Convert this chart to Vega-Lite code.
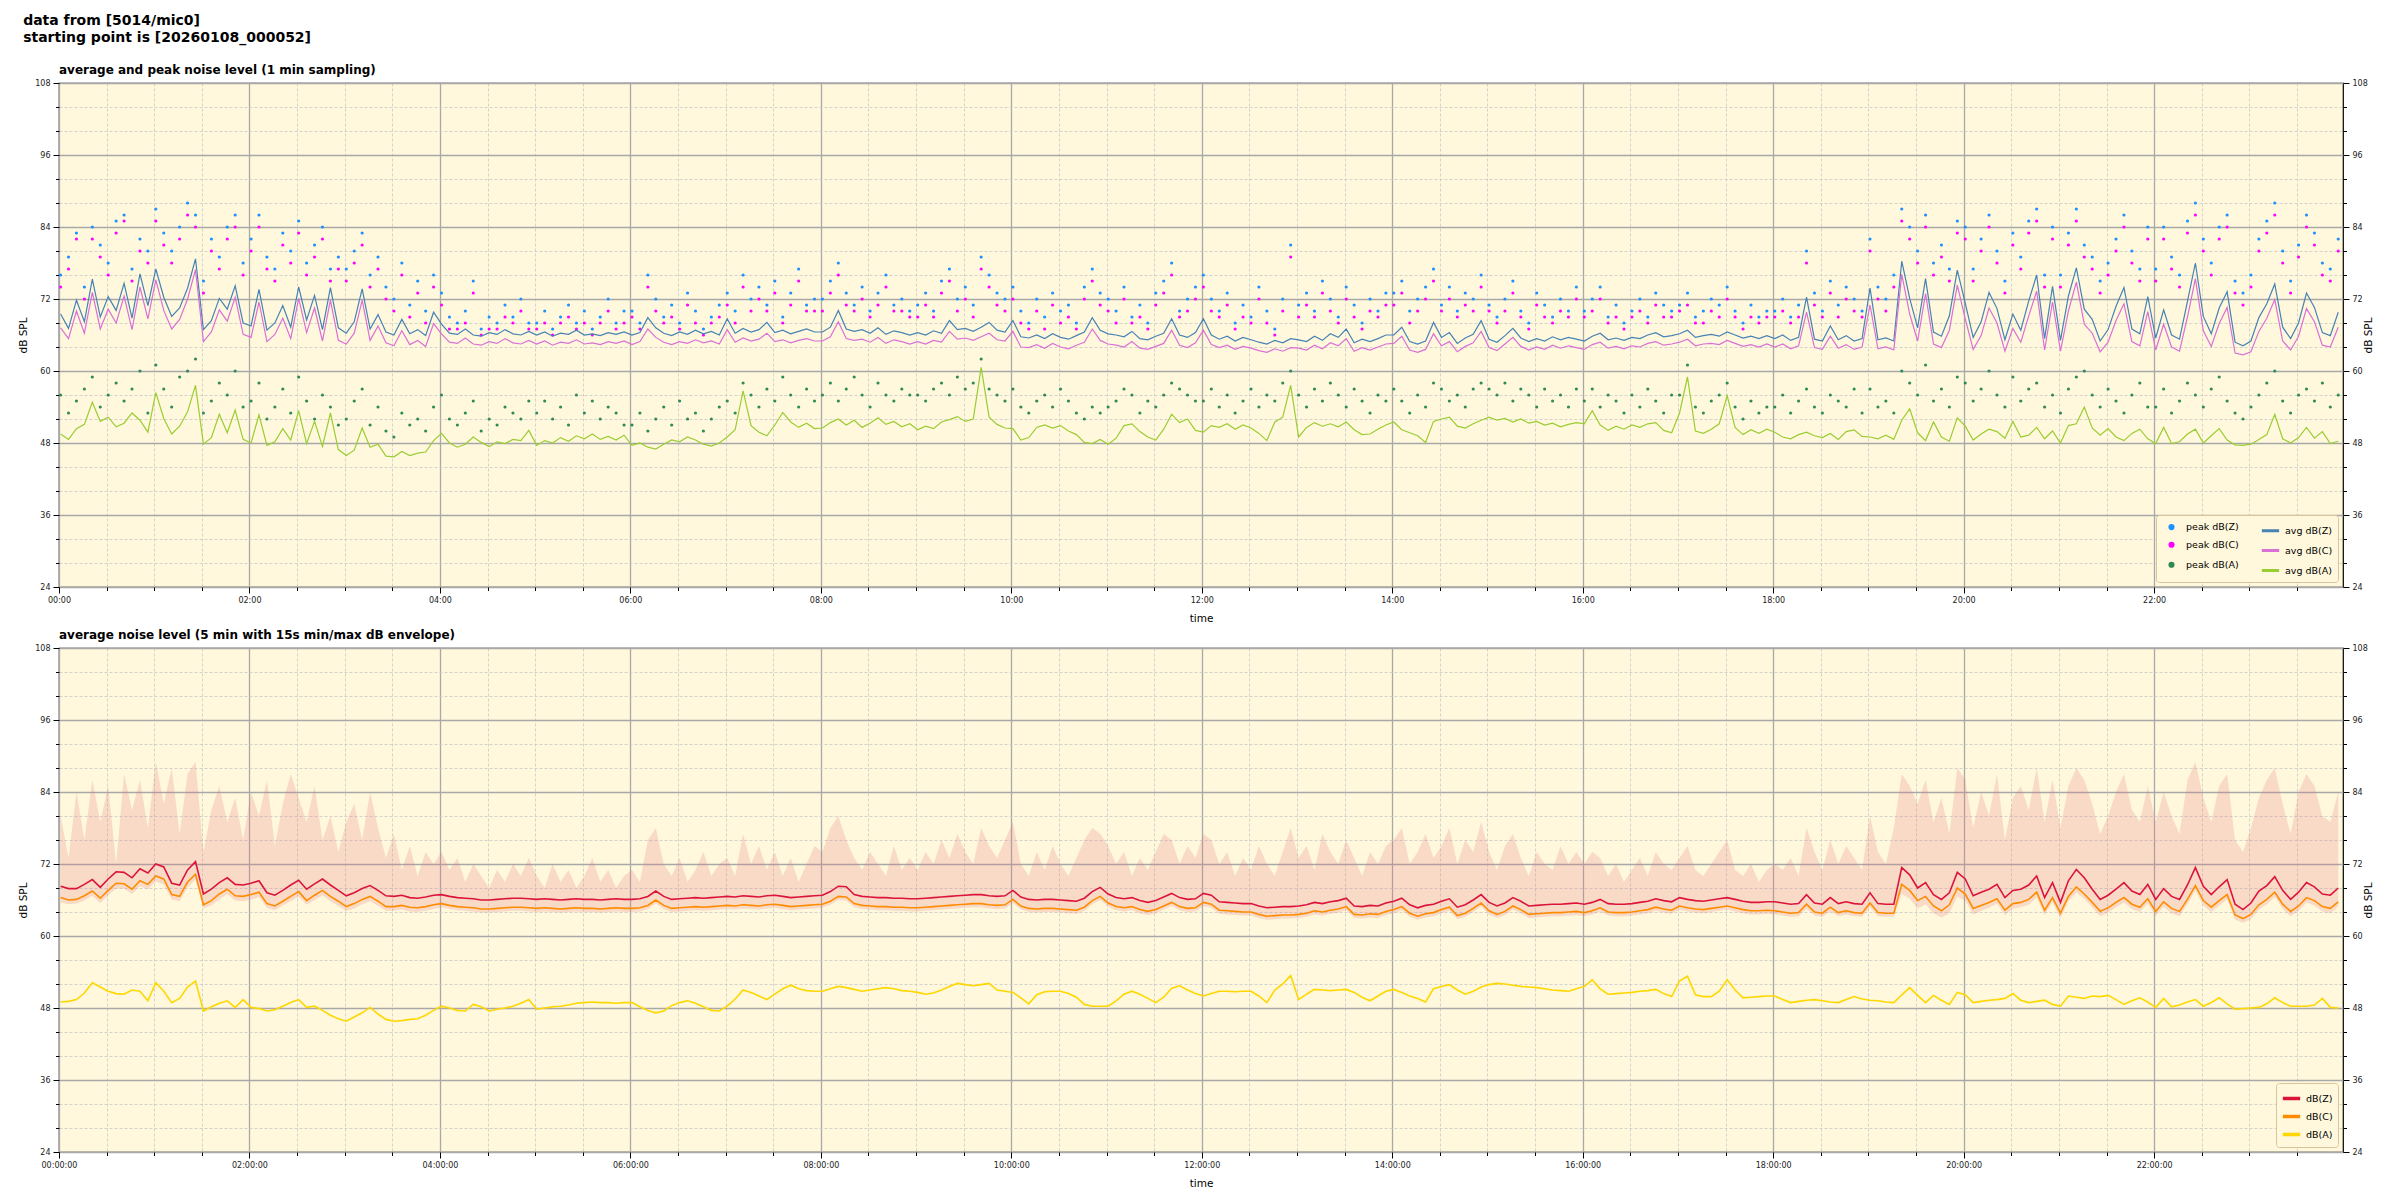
{
"$schema": "https://vega.github.io/schema/vega-lite/v6.json",
"padding": {"left": 18, "top": 14, "right": 6, "bottom": 2},
"background": "white",
"title": {"text": ["data from [5014/mic0]", "starting point is [20260108_000052]"], "anchor": "start", "frame": "bounds", "fontSize": 14, "fontWeight": "bold", "font": "DejaVu Sans", "lineHeight": 17, "offset": 18, "dx": 5, "color": "black"},
"datasets": {"d": [
{"t":1,"z":69.5,"c":67.2,"a":49.5,"pz":76,"pc":74,"pa":56,"Z":68.3,"C":66.4,"A":49.0,"lo":65.6,"hi":80},
{"t":6,"z":67.1,"c":65.4,"a":48.6,"pz":79,"pc":77,"pa":53,"Z":67.9,"C":66.0,"A":49.1,"lo":65.3,"hi":73},
{"t":11,"z":71.8,"c":70.0,"a":50.4,"pz":83,"pc":82,"pa":55,"Z":67.9,"C":66.1,"A":49.4,"lo":65.4,"hi":84},
{"t":16,"z":68.2,"c":66.3,"a":51.1,"pz":74,"pc":72,"pa":57,"Z":68.6,"C":66.7,"A":50.5,"lo":65.9,"hi":76},
{"t":21,"z":75.3,"c":73.1,"a":54.8,"pz":84,"pc":82,"pa":59,"Z":69.4,"C":67.5,"A":52.2,"lo":66.7,"hi":86},
{"t":26,"z":69.0,"c":67.0,"a":51.6,"pz":81,"pc":79,"pa":54,"Z":68.1,"C":66.3,"A":51.5,"lo":65.5,"hi":79},
{"t":31,"z":72.4,"c":70.3,"a":52.3,"pz":78,"pc":76,"pa":56,"Z":69.5,"C":67.6,"A":50.8,"lo":66.8,"hi":85},
{"t":36,"z":70.1,"c":68.0,"a":50.7,"pz":85,"pc":83,"pa":58,"Z":70.7,"C":68.8,"A":50.4,"lo":67.9,"hi":72},
{"t":41,"z":74.6,"c":72.5,"a":51.3,"pz":86,"pc":85,"pa":55,"Z":70.6,"C":68.7,"A":50.3,"lo":67.9,"hi":87},
{"t":46,"z":68.8,"c":66.9,"a":53.0,"pz":77,"pc":75,"pa":57,"Z":69.7,"C":67.8,"A":51.0,"lo":67.0,"hi":81},
{"t":51,"z":76.2,"c":74.0,"a":51.8,"pz":82,"pc":80,"pa":60,"Z":71.2,"C":69.2,"A":50.8,"lo":68.3,"hi":86},
{"t":56,"z":70.9,"c":68.7,"a":49.8,"pz":80,"pc":78,"pa":53,"Z":70.5,"C":68.6,"A":49.2,"lo":67.8,"hi":78},
{"t":61,"z":77.0,"c":75.2,"a":56.4,"pz":87,"pc":85,"pa":61,"Z":72.0,"C":70.0,"A":52.2,"lo":69.1,"hi":89},
{"t":66,"z":72.3,"c":70.1,"a":52.1,"pz":83,"pc":81,"pa":57,"Z":71.5,"C":69.5,"A":50.8,"lo":68.6,"hi":82},
{"t":71,"z":69.1,"c":67.0,"a":49.5,"pz":80,"pc":78,"pa":54,"Z":68.8,"C":66.9,"A":48.9,"lo":66.1,"hi":88},
{"t":76,"z":70.5,"c":68.6,"a":50.8,"pz":84,"pc":82,"pa":59,"Z":68.5,"C":66.6,"A":49.6,"lo":65.8,"hi":77},
{"t":81,"z":73.8,"c":72.0,"a":53.2,"pz":88,"pc":86,"pa":60,"Z":71.0,"C":69.0,"A":51.5,"lo":68.1,"hi":87},
{"t":86,"z":78.7,"c":76.9,"a":57.6,"pz":86,"pc":84,"pa":62,"Z":72.4,"C":70.3,"A":52.5,"lo":69.4,"hi":89},
{"t":91,"z":66.9,"c":64.9,"a":47.8,"pz":75,"pc":73,"pa":53,"Z":67.0,"C":65.2,"A":47.5,"lo":64.6,"hi":74},
{"t":96,"z":68.4,"c":66.5,"a":48.9,"pz":82,"pc":80,"pa":55,"Z":67.8,"C":65.9,"A":48.2,"lo":65.1,"hi":81},
{"t":101,"z":72.1,"c":70.2,"a":52.8,"pz":79,"pc":77,"pa":58,"Z":68.9,"C":67.0,"A":48.8,"lo":66.1,"hi":85},
{"t":106,"z":70.3,"c":68.3,"a":49.7,"pz":84,"pc":82,"pa":56,"Z":69.7,"C":67.8,"A":49.2,"lo":67.0,"hi":79},
{"t":111,"z":74.2,"c":72.3,"a":53.5,"pz":86,"pc":84,"pa":60,"Z":68.6,"C":66.7,"A":48.1,"lo":65.9,"hi":83},
{"t":116,"z":68.0,"c":66.1,"a":48.6,"pz":78,"pc":76,"pa":54,"Z":68.5,"C":66.6,"A":49.4,"lo":65.8,"hi":76},
{"t":121,"z":67.5,"c":65.6,"a":48.0,"pz":82,"pc":80,"pa":55,"Z":68.8,"C":66.9,"A":48.1,"lo":66.1,"hi":84},
{"t":126,"z":73.6,"c":71.5,"a":52.7,"pz":86,"pc":84,"pa":58,"Z":69.2,"C":67.3,"A":47.9,"lo":66.5,"hi":80},
{"t":131,"z":66.8,"c":64.9,"a":47.6,"pz":79,"pc":77,"pa":52,"Z":67.2,"C":65.4,"A":47.5,"lo":64.7,"hi":86},
{"t":136,"z":68.0,"c":66.1,"a":48.2,"pz":77,"pc":75,"pa":54,"Z":66.8,"C":65.0,"A":47.7,"lo":64.3,"hi":75},
{"t":141,"z":70.9,"c":68.8,"a":50.4,"pz":83,"pc":81,"pa":57,"Z":67.6,"C":65.8,"A":48.3,"lo":65.1,"hi":82},
{"t":146,"z":67.3,"c":65.4,"a":48.5,"pz":80,"pc":78,"pa":53,"Z":68.5,"C":66.6,"A":48.9,"lo":65.8,"hi":87},
{"t":151,"z":74.0,"c":72.1,"a":53.4,"pz":85,"pc":83,"pa":59,"Z":69.3,"C":67.4,"A":49.4,"lo":66.6,"hi":83},
{"t":156,"z":68.5,"c":66.4,"a":47.9,"pz":78,"pc":76,"pa":55,"Z":67.8,"C":65.9,"A":48.1,"lo":65.2,"hi":79},
{"t":161,"z":72.6,"c":70.5,"a":51.6,"pz":81,"pc":79,"pa":52,"Z":68.7,"C":66.8,"A":48.3,"lo":66.0,"hi":85},
{"t":166,"z":66.9,"c":65.0,"a":47.4,"pz":84,"pc":82,"pa":56,"Z":69.5,"C":67.6,"A":47.6,"lo":66.8,"hi":76},
{"t":171,"z":73.9,"c":71.8,"a":53.0,"pz":77,"pc":75,"pa":54,"Z":68.5,"C":66.6,"A":46.8,"lo":65.8,"hi":80},
{"t":176,"z":67.2,"c":65.1,"a":46.9,"pz":79,"pc":77,"pa":51,"Z":67.6,"C":65.8,"A":46.2,"lo":65.0,"hi":74},
{"t":181,"z":66.3,"c":64.5,"a":45.9,"pz":77,"pc":75,"pa":52,"Z":66.7,"C":64.9,"A":45.8,"lo":64.2,"hi":79},
{"t":186,"z":68.2,"c":66.3,"a":46.8,"pz":80,"pc":78,"pa":55,"Z":67.2,"C":65.4,"A":46.5,"lo":64.6,"hi":82},
{"t":191,"z":73.7,"c":71.8,"a":50.5,"pz":83,"pc":81,"pa":57,"Z":67.9,"C":66.1,"A":47.2,"lo":65.3,"hi":76},
{"t":196,"z":67.0,"c":65.1,"a":47.3,"pz":76,"pc":74,"pa":51,"Z":68.4,"C":66.6,"A":48.1,"lo":65.8,"hi":84},
{"t":201,"z":69.4,"c":67.5,"a":47.8,"pz":79,"pc":77,"pa":54,"Z":67.6,"C":65.8,"A":47.0,"lo":65.0,"hi":78},
{"t":206,"z":66.5,"c":64.7,"a":45.8,"pz":74,"pc":72,"pa":50,"Z":66.7,"C":64.9,"A":46.1,"lo":64.2,"hi":73},
{"t":211,"z":66.0,"c":64.2,"a":45.7,"pz":72,"pc":70,"pa":49,"Z":66.6,"C":64.9,"A":45.8,"lo":64.2,"hi":77},
{"t":216,"z":68.6,"c":66.7,"a":46.6,"pz":78,"pc":76,"pa":53,"Z":66.8,"C":65.1,"A":45.9,"lo":64.4,"hi":71},
{"t":221,"z":66.2,"c":64.4,"a":45.9,"pz":71,"pc":69,"pa":51,"Z":66.4,"C":64.8,"A":46.1,"lo":64.1,"hi":75},
{"t":226,"z":66.9,"c":65.1,"a":46.3,"pz":75,"pc":73,"pa":52,"Z":66.3,"C":64.7,"A":46.2,"lo":64.0,"hi":70},
{"t":231,"z":65.9,"c":64.1,"a":46.5,"pz":70,"pc":68,"pa":50,"Z":66.5,"C":64.9,"A":46.8,"lo":64.2,"hi":74},
{"t":236,"z":69.8,"c":67.9,"a":48.4,"pz":76,"pc":74,"pa":54,"Z":66.8,"C":65.2,"A":47.6,"lo":64.5,"hi":72},
{"t":241,"z":67.8,"c":66.2,"a":49.6,"pz":73,"pc":71,"pa":56,"Z":66.9,"C":65.4,"A":48.3,"lo":64.8,"hi":74},
{"t":246,"z":66.3,"c":64.8,"a":48.0,"pz":69,"pc":67,"pa":52,"Z":66.6,"C":65.1,"A":48.0,"lo":64.5,"hi":71},
{"t":251,"z":66.1,"c":64.6,"a":47.3,"pz":68,"pc":67,"pa":51,"Z":66.4,"C":64.9,"A":47.6,"lo":64.3,"hi":73},
{"t":256,"z":67.0,"c":65.5,"a":47.8,"pz":70,"pc":68,"pa":53,"Z":66.3,"C":64.8,"A":47.5,"lo":64.2,"hi":69},
{"t":261,"z":66.0,"c":64.5,"a":49.0,"pz":75,"pc":73,"pa":55,"Z":66.2,"C":64.7,"A":48.6,"lo":64.1,"hi":72},
{"t":266,"z":65.8,"c":64.3,"a":48.1,"pz":67,"pc":66,"pa":50,"Z":66.0,"C":64.5,"A":48.2,"lo":63.9,"hi":70},
{"t":271,"z":66.4,"c":64.9,"a":47.4,"pz":69,"pc":67,"pa":52,"Z":66.0,"C":64.5,"A":47.5,"lo":63.9,"hi":68},
{"t":276,"z":66.1,"c":64.6,"a":48.2,"pz":68,"pc":67,"pa":51,"Z":66.1,"C":64.6,"A":47.8,"lo":64.0,"hi":71},
{"t":281,"z":66.9,"c":65.4,"a":47.9,"pz":71,"pc":69,"pa":54,"Z":66.2,"C":64.7,"A":48.0,"lo":64.1,"hi":69},
{"t":286,"z":66.2,"c":64.7,"a":48.6,"pz":69,"pc":68,"pa":53,"Z":66.3,"C":64.8,"A":48.3,"lo":64.2,"hi":72},
{"t":291,"z":66.0,"c":64.5,"a":48.4,"pz":72,"pc":70,"pa":52,"Z":66.3,"C":64.8,"A":48.8,"lo":64.2,"hi":70},
{"t":296,"z":66.6,"c":65.1,"a":50.1,"pz":68,"pc":67,"pa":55,"Z":66.2,"C":64.7,"A":49.4,"lo":64.1,"hi":73},
{"t":301,"z":66.0,"c":64.5,"a":47.6,"pz":68,"pc":67,"pa":53,"Z":66.1,"C":64.6,"A":47.8,"lo":64.0,"hi":70},
{"t":306,"z":66.5,"c":65.0,"a":48.4,"pz":70,"pc":68,"pa":55,"Z":66.2,"C":64.7,"A":48.0,"lo":64.1,"hi":68},
{"t":311,"z":65.8,"c":64.3,"a":48.0,"pz":67,"pc":66,"pa":52,"Z":66.1,"C":64.6,"A":48.2,"lo":64.0,"hi":72},
{"t":316,"z":66.3,"c":64.8,"a":48.9,"pz":69,"pc":68,"pa":54,"Z":66.0,"C":64.5,"A":48.3,"lo":63.9,"hi":69},
{"t":321,"z":66.1,"c":64.6,"a":48.3,"pz":71,"pc":69,"pa":51,"Z":66.1,"C":64.6,"A":48.5,"lo":64.0,"hi":71},
{"t":326,"z":66.8,"c":65.2,"a":49.2,"pz":68,"pc":67,"pa":56,"Z":66.2,"C":64.7,"A":48.8,"lo":64.1,"hi":68},
{"t":331,"z":66.0,"c":64.5,"a":48.7,"pz":70,"pc":68,"pa":53,"Z":66.1,"C":64.6,"A":48.9,"lo":64.0,"hi":70},
{"t":336,"z":66.2,"c":64.7,"a":49.5,"pz":67,"pc":66,"pa":55,"Z":66.1,"C":64.6,"A":49.0,"lo":64.0,"hi":73},
{"t":341,"z":65.9,"c":64.4,"a":48.6,"pz":69,"pc":68,"pa":52,"Z":66.0,"C":64.5,"A":48.9,"lo":63.9,"hi":69},
{"t":346,"z":66.4,"c":64.9,"a":49.1,"pz":72,"pc":70,"pa":54,"Z":66.1,"C":64.6,"A":48.9,"lo":64.0,"hi":71},
{"t":351,"z":66.1,"c":64.6,"a":48.5,"pz":68,"pc":67,"pa":53,"Z":66.2,"C":64.7,"A":48.8,"lo":64.1,"hi":68},
{"t":356,"z":66.5,"c":65.0,"a":49.3,"pz":70,"pc":68,"pa":51,"Z":66.1,"C":64.6,"A":48.9,"lo":64.0,"hi":70},
{"t":361,"z":66.0,"c":64.4,"a":47.6,"pz":70,"pc":69,"pa":51,"Z":66.1,"C":64.6,"A":48.9,"lo":64.0,"hi":71},
{"t":366,"z":66.4,"c":64.9,"a":48.0,"pz":68,"pc":67,"pa":53,"Z":66.2,"C":64.7,"A":48.2,"lo":64.1,"hi":69},
{"t":371,"z":68.9,"c":67.0,"a":47.3,"pz":76,"pc":74,"pa":50,"Z":66.6,"C":65.1,"A":47.6,"lo":64.5,"hi":76},
{"t":376,"z":67.2,"c":65.6,"a":47.0,"pz":72,"pc":70,"pa":52,"Z":67.5,"C":66.0,"A":47.2,"lo":65.4,"hi":78},
{"t":381,"z":66.3,"c":64.8,"a":47.8,"pz":69,"pc":68,"pa":54,"Z":66.6,"C":65.1,"A":47.5,"lo":64.5,"hi":72},
{"t":386,"z":65.9,"c":64.4,"a":48.5,"pz":71,"pc":69,"pa":51,"Z":66.1,"C":64.6,"A":48.4,"lo":64.0,"hi":70},
{"t":391,"z":66.5,"c":64.9,"a":48.2,"pz":68,"pc":67,"pa":55,"Z":66.2,"C":64.7,"A":48.9,"lo":64.1,"hi":73},
{"t":396,"z":66.1,"c":64.6,"a":49.0,"pz":73,"pc":71,"pa":52,"Z":66.3,"C":64.8,"A":49.2,"lo":64.2,"hi":69},
{"t":401,"z":66.8,"c":65.2,"a":48.5,"pz":70,"pc":68,"pa":53,"Z":66.4,"C":64.9,"A":48.8,"lo":64.3,"hi":71},
{"t":406,"z":66.2,"c":64.7,"a":47.8,"pz":67,"pc":66,"pa":50,"Z":66.3,"C":64.8,"A":48.2,"lo":64.2,"hi":74},
{"t":411,"z":66.6,"c":65.0,"a":47.5,"pz":69,"pc":68,"pa":52,"Z":66.4,"C":64.9,"A":47.6,"lo":64.3,"hi":70},
{"t":416,"z":66.0,"c":64.5,"a":48.0,"pz":71,"pc":69,"pa":54,"Z":66.5,"C":65.0,"A":47.5,"lo":64.4,"hi":72},
{"t":421,"z":68.7,"c":66.9,"a":49.0,"pz":73,"pc":71,"pa":55,"Z":66.6,"C":65.1,"A":48.3,"lo":64.5,"hi":73},
{"t":426,"z":66.3,"c":64.8,"a":50.2,"pz":70,"pc":68,"pa":53,"Z":66.5,"C":65.0,"A":49.5,"lo":64.4,"hi":70},
{"t":431,"z":67.1,"c":65.5,"a":56.7,"pz":76,"pc":74,"pa":58,"Z":66.7,"C":65.2,"A":51.0,"lo":64.6,"hi":77},
{"t":436,"z":66.5,"c":65.0,"a":50.9,"pz":72,"pc":70,"pa":56,"Z":66.6,"C":65.1,"A":50.6,"lo":64.5,"hi":72},
{"t":441,"z":66.9,"c":65.3,"a":49.8,"pz":74,"pc":72,"pa":54,"Z":66.5,"C":65.0,"A":50.0,"lo":64.4,"hi":75},
{"t":446,"z":68.1,"c":66.3,"a":49.2,"pz":71,"pc":70,"pa":57,"Z":66.7,"C":65.2,"A":49.4,"lo":64.6,"hi":71},
{"t":451,"z":66.4,"c":64.9,"a":51.0,"pz":75,"pc":73,"pa":55,"Z":66.8,"C":65.3,"A":50.3,"lo":64.7,"hi":74},
{"t":456,"z":66.8,"c":65.2,"a":53.1,"pz":69,"pc":68,"pa":59,"Z":66.6,"C":65.1,"A":51.2,"lo":64.5,"hi":70},
{"t":461,"z":66.2,"c":64.7,"a":51.5,"pz":73,"pc":71,"pa":56,"Z":66.4,"C":64.9,"A":51.8,"lo":64.3,"hi":73},
{"t":466,"z":66.6,"c":65.1,"a":50.6,"pz":77,"pc":75,"pa":54,"Z":66.5,"C":65.0,"A":51.2,"lo":64.4,"hi":69},
{"t":471,"z":67.0,"c":65.4,"a":51.3,"pz":71,"pc":70,"pa":57,"Z":66.6,"C":65.1,"A":50.9,"lo":64.5,"hi":72},
{"t":476,"z":66.5,"c":65.0,"a":50.4,"pz":72,"pc":70,"pa":55,"Z":66.7,"C":65.2,"A":50.8,"lo":64.6,"hi":75},
{"t":481,"z":66.5,"c":65.0,"a":50.5,"pz":72,"pc":70,"pa":56,"Z":66.8,"C":65.3,"A":50.8,"lo":64.7,"hi":74},
{"t":486,"z":67.3,"c":65.7,"a":51.4,"pz":75,"pc":73,"pa":58,"Z":67.4,"C":65.8,"A":51.2,"lo":65.2,"hi":78},
{"t":491,"z":70.1,"c":68.2,"a":52.0,"pz":78,"pc":76,"pa":55,"Z":68.3,"C":66.6,"A":51.6,"lo":66.0,"hi":80},
{"t":496,"z":67.0,"c":65.4,"a":51.0,"pz":73,"pc":71,"pa":57,"Z":68.2,"C":66.5,"A":51.4,"lo":65.9,"hi":76},
{"t":501,"z":66.6,"c":65.1,"a":51.8,"pz":71,"pc":70,"pa":59,"Z":66.9,"C":65.4,"A":51.1,"lo":64.8,"hi":73},
{"t":506,"z":66.9,"c":65.3,"a":50.6,"pz":74,"pc":72,"pa":56,"Z":66.6,"C":65.1,"A":50.8,"lo":64.5,"hi":71},
{"t":511,"z":66.3,"c":64.8,"a":51.3,"pz":70,"pc":69,"pa":54,"Z":66.5,"C":65.0,"A":51.0,"lo":64.4,"hi":74},
{"t":516,"z":67.2,"c":65.6,"a":52.2,"pz":73,"pc":71,"pa":58,"Z":66.4,"C":64.9,"A":51.2,"lo":64.3,"hi":72},
{"t":521,"z":66.1,"c":64.6,"a":51.1,"pz":76,"pc":74,"pa":56,"Z":66.4,"C":64.9,"A":51.4,"lo":64.3,"hi":70},
{"t":526,"z":66.7,"c":65.2,"a":51.6,"pz":71,"pc":70,"pa":55,"Z":66.3,"C":64.8,"A":51.2,"lo":64.2,"hi":75},
{"t":531,"z":66.4,"c":64.9,"a":50.7,"pz":72,"pc":70,"pa":57,"Z":66.3,"C":64.8,"A":50.9,"lo":64.2,"hi":71},
{"t":536,"z":66.0,"c":64.5,"a":51.2,"pz":70,"pc":69,"pa":56,"Z":66.2,"C":64.7,"A":50.8,"lo":64.1,"hi":73},
{"t":541,"z":66.4,"c":64.9,"a":50.2,"pz":71,"pc":69,"pa":56,"Z":66.2,"C":64.7,"A":50.6,"lo":64.1,"hi":71},
{"t":546,"z":66.0,"c":64.5,"a":50.8,"pz":73,"pc":71,"pa":55,"Z":66.3,"C":64.8,"A":50.3,"lo":64.2,"hi":74},
{"t":551,"z":66.7,"c":65.1,"a":50.4,"pz":70,"pc":69,"pa":57,"Z":66.4,"C":64.9,"A":50.5,"lo":64.3,"hi":72},
{"t":556,"z":66.3,"c":64.8,"a":51.5,"pz":75,"pc":73,"pa":58,"Z":66.5,"C":65.0,"A":51.0,"lo":64.4,"hi":76},
{"t":561,"z":68.4,"c":66.6,"a":51.9,"pz":77,"pc":75,"pa":56,"Z":66.6,"C":65.1,"A":51.6,"lo":64.5,"hi":73},
{"t":566,"z":66.9,"c":65.3,"a":52.4,"pz":72,"pc":70,"pa":59,"Z":66.7,"C":65.2,"A":52.1,"lo":64.6,"hi":77},
{"t":571,"z":67.1,"c":65.5,"a":51.6,"pz":74,"pc":72,"pa":57,"Z":66.8,"C":65.3,"A":51.9,"lo":64.7,"hi":74},
{"t":576,"z":66.6,"c":65.1,"a":52.0,"pz":71,"pc":69,"pa":58,"Z":66.9,"C":65.4,"A":51.7,"lo":64.8,"hi":72},
{"t":581,"z":67.3,"c":65.7,"a":60.6,"pz":79,"pc":77,"pa":62,"Z":66.9,"C":65.4,"A":51.9,"lo":64.8,"hi":78},
{"t":586,"z":68.1,"c":66.3,"a":52.3,"pz":76,"pc":74,"pa":57,"Z":66.7,"C":65.2,"A":52.1,"lo":64.6,"hi":75},
{"t":591,"z":66.8,"c":65.2,"a":51.1,"pz":73,"pc":71,"pa":56,"Z":66.6,"C":65.1,"A":51.0,"lo":64.5,"hi":73},
{"t":596,"z":66.5,"c":65.0,"a":50.5,"pz":72,"pc":70,"pa":55,"Z":66.7,"C":65.2,"A":50.8,"lo":64.6,"hi":76},
{"t":601,"z":68.4,"c":66.6,"a":50.4,"pz":74,"pc":72,"pa":57,"Z":67.6,"C":66.1,"A":50.6,"lo":65.5,"hi":79},
{"t":606,"z":65.7,"c":64.0,"a":48.5,"pz":70,"pc":68,"pa":54,"Z":66.5,"C":65.0,"A":49.7,"lo":64.4,"hi":72},
{"t":611,"z":65.5,"c":63.9,"a":48.9,"pz":68,"pc":67,"pa":53,"Z":66.1,"C":64.6,"A":48.7,"lo":64.0,"hi":70},
{"t":616,"z":66.0,"c":64.4,"a":50.6,"pz":72,"pc":70,"pa":55,"Z":66.0,"C":64.5,"A":50.2,"lo":63.9,"hi":74},
{"t":621,"z":65.4,"c":63.8,"a":51.0,"pz":69,"pc":67,"pa":56,"Z":66.1,"C":64.6,"A":50.7,"lo":64.0,"hi":71},
{"t":626,"z":66.2,"c":64.6,"a":50.5,"pz":73,"pc":71,"pa":54,"Z":66.1,"C":64.6,"A":50.8,"lo":64.0,"hi":75},
{"t":631,"z":65.6,"c":64.0,"a":50.9,"pz":70,"pc":68,"pa":57,"Z":66.0,"C":64.5,"A":50.8,"lo":63.9,"hi":72},
{"t":636,"z":65.3,"c":63.7,"a":50.0,"pz":71,"pc":69,"pa":55,"Z":65.9,"C":64.4,"A":50.4,"lo":63.8,"hi":70},
{"t":641,"z":65.9,"c":64.3,"a":49.4,"pz":68,"pc":67,"pa":53,"Z":65.8,"C":64.3,"A":49.8,"lo":63.7,"hi":73},
{"t":646,"z":66.5,"c":64.8,"a":48.1,"pz":74,"pc":72,"pa":52,"Z":66.3,"C":64.8,"A":48.6,"lo":64.2,"hi":76},
{"t":651,"z":68.9,"c":67.0,"a":47.9,"pz":77,"pc":75,"pa":54,"Z":67.4,"C":65.9,"A":48.3,"lo":65.3,"hi":78},
{"t":656,"z":66.8,"c":65.1,"a":48.6,"pz":73,"pc":71,"pa":53,"Z":68.1,"C":66.6,"A":48.3,"lo":66.0,"hi":77},
{"t":661,"z":66.2,"c":64.5,"a":47.8,"pz":72,"pc":70,"pa":54,"Z":67.0,"C":65.5,"A":48.3,"lo":64.9,"hi":75},
{"t":666,"z":66.0,"c":64.3,"a":48.8,"pz":70,"pc":68,"pa":55,"Z":66.4,"C":64.9,"A":49.2,"lo":64.3,"hi":72},
{"t":671,"z":65.7,"c":64.0,"a":50.9,"pz":74,"pc":72,"pa":57,"Z":66.2,"C":64.7,"A":50.3,"lo":64.1,"hi":74},
{"t":676,"z":66.6,"c":64.9,"a":51.2,"pz":69,"pc":68,"pa":56,"Z":66.4,"C":64.9,"A":50.8,"lo":64.3,"hi":70},
{"t":681,"z":65.4,"c":63.8,"a":49.9,"pz":71,"pc":69,"pa":53,"Z":65.9,"C":64.4,"A":50.3,"lo":63.8,"hi":73},
{"t":686,"z":65.2,"c":63.6,"a":49.0,"pz":68,"pc":67,"pa":55,"Z":65.6,"C":64.1,"A":49.6,"lo":63.5,"hi":71},
{"t":691,"z":65.8,"c":64.1,"a":48.5,"pz":73,"pc":71,"pa":54,"Z":65.9,"C":64.4,"A":48.9,"lo":63.8,"hi":74},
{"t":696,"z":66.3,"c":64.6,"a":50.3,"pz":75,"pc":73,"pa":56,"Z":66.5,"C":65.0,"A":49.8,"lo":64.4,"hi":77},
{"t":701,"z":68.7,"c":66.8,"a":52.8,"pz":78,"pc":76,"pa":58,"Z":67.1,"C":65.6,"A":51.3,"lo":65.0,"hi":76},
{"t":706,"z":66.0,"c":64.3,"a":51.4,"pz":70,"pc":69,"pa":57,"Z":66.4,"C":64.9,"A":51.7,"lo":64.3,"hi":72},
{"t":711,"z":65.6,"c":63.9,"a":52.0,"pz":72,"pc":70,"pa":56,"Z":66.1,"C":64.6,"A":51.0,"lo":64.0,"hi":75},
{"t":716,"z":66.4,"c":64.7,"a":50.1,"pz":74,"pc":72,"pa":55,"Z":66.2,"C":64.7,"A":50.4,"lo":64.1,"hi":73},
{"t":721,"z":68.7,"c":66.8,"a":49.8,"pz":76,"pc":74,"pa":55,"Z":67.1,"C":65.6,"A":50.0,"lo":65.0,"hi":77},
{"t":726,"z":66.0,"c":64.4,"a":50.9,"pz":72,"pc":70,"pa":57,"Z":66.8,"C":65.3,"A":50.4,"lo":64.7,"hi":76},
{"t":731,"z":65.3,"c":63.9,"a":50.6,"pz":70,"pc":69,"pa":54,"Z":65.7,"C":64.3,"A":50.8,"lo":63.7,"hi":72},
{"t":736,"z":65.8,"c":64.3,"a":51.2,"pz":73,"pc":71,"pa":56,"Z":65.6,"C":64.2,"A":50.8,"lo":63.6,"hi":74},
{"t":741,"z":65.0,"c":63.6,"a":50.3,"pz":68,"pc":67,"pa":53,"Z":65.5,"C":64.1,"A":50.7,"lo":63.5,"hi":70},
{"t":746,"z":65.6,"c":64.1,"a":51.0,"pz":71,"pc":69,"pa":55,"Z":65.4,"C":64.0,"A":50.8,"lo":63.4,"hi":73},
{"t":751,"z":65.2,"c":63.8,"a":50.5,"pz":69,"pc":68,"pa":57,"Z":65.4,"C":64.0,"A":50.8,"lo":63.4,"hi":71},
{"t":756,"z":64.8,"c":63.4,"a":49.6,"pz":74,"pc":72,"pa":54,"Z":65.0,"C":63.6,"A":50.0,"lo":63.0,"hi":75},
{"t":761,"z":64.5,"c":63.1,"a":48.4,"pz":70,"pc":68,"pa":56,"Z":64.7,"C":63.3,"A":48.9,"lo":62.7,"hi":72},
{"t":766,"z":65.1,"c":63.7,"a":51.5,"pz":67,"pc":66,"pa":55,"Z":64.8,"C":63.4,"A":51.0,"lo":62.8,"hi":70},
{"t":771,"z":64.7,"c":63.3,"a":52.3,"pz":72,"pc":70,"pa":58,"Z":64.9,"C":63.5,"A":52.0,"lo":62.9,"hi":74},
{"t":776,"z":65.4,"c":63.9,"a":57.6,"pz":81,"pc":79,"pa":60,"Z":64.9,"C":63.5,"A":53.4,"lo":62.9,"hi":78},
{"t":781,"z":65.2,"c":63.8,"a":49.0,"pz":71,"pc":69,"pa":56,"Z":65.0,"C":63.6,"A":49.4,"lo":63.0,"hi":73},
{"t":786,"z":64.9,"c":63.5,"a":50.6,"pz":73,"pc":71,"pa":54,"Z":65.2,"C":63.8,"A":50.3,"lo":63.2,"hi":75},
{"t":791,"z":65.8,"c":64.3,"a":51.4,"pz":70,"pc":69,"pa":57,"Z":65.6,"C":64.2,"A":51.1,"lo":63.6,"hi":71},
{"t":796,"z":65.1,"c":63.7,"a":50.8,"pz":75,"pc":73,"pa":55,"Z":65.4,"C":64.0,"A":51.0,"lo":63.4,"hi":77},
{"t":801,"z":66.2,"c":64.7,"a":51.2,"pz":72,"pc":70,"pa":58,"Z":65.7,"C":64.3,"A":50.9,"lo":63.7,"hi":74},
{"t":806,"z":65.6,"c":64.2,"a":50.7,"pz":69,"pc":68,"pa":56,"Z":65.9,"C":64.5,"A":51.0,"lo":63.9,"hi":72},
{"t":811,"z":67.0,"c":65.4,"a":51.5,"pz":74,"pc":72,"pa":54,"Z":66.3,"C":64.9,"A":51.1,"lo":64.3,"hi":76},
{"t":816,"z":64.7,"c":63.3,"a":50.2,"pz":71,"pc":69,"pa":57,"Z":65.0,"C":63.6,"A":50.6,"lo":63.0,"hi":73},
{"t":821,"z":65.3,"c":63.9,"a":49.4,"pz":68,"pc":67,"pa":55,"Z":64.9,"C":63.5,"A":49.8,"lo":62.9,"hi":70},
{"t":826,"z":64.9,"c":63.5,"a":49.5,"pz":72,"pc":70,"pa":53,"Z":65.1,"C":63.7,"A":49.2,"lo":63.1,"hi":74},
{"t":831,"z":65.4,"c":64.0,"a":50.3,"pz":70,"pc":69,"pa":56,"Z":65.0,"C":63.6,"A":50.0,"lo":63.0,"hi":72},
{"t":836,"z":66.0,"c":64.5,"a":51.0,"pz":73,"pc":71,"pa":55,"Z":65.5,"C":64.1,"A":50.8,"lo":63.5,"hi":75},
{"t":841,"z":66.0,"c":64.6,"a":51.5,"pz":73,"pc":71,"pa":57,"Z":65.8,"C":64.4,"A":51.1,"lo":63.8,"hi":76},
{"t":846,"z":67.3,"c":65.8,"a":50.2,"pz":75,"pc":73,"pa":55,"Z":66.3,"C":64.9,"A":50.6,"lo":64.3,"hi":78},
{"t":851,"z":64.9,"c":63.5,"a":49.7,"pz":70,"pc":68,"pa":53,"Z":65.2,"C":63.8,"A":50.0,"lo":63.2,"hi":72},
{"t":856,"z":64.5,"c":63.1,"a":49.2,"pz":72,"pc":70,"pa":56,"Z":64.7,"C":63.3,"A":49.6,"lo":62.7,"hi":74},
{"t":861,"z":65.0,"c":63.6,"a":48.1,"pz":74,"pc":72,"pa":54,"Z":65.1,"C":63.7,"A":49.0,"lo":63.1,"hi":77},
{"t":866,"z":68.1,"c":66.2,"a":51.6,"pz":77,"pc":75,"pa":58,"Z":65.3,"C":63.9,"A":51.2,"lo":63.3,"hi":73},
{"t":871,"z":65.6,"c":64.2,"a":52.0,"pz":71,"pc":70,"pa":57,"Z":65.8,"C":64.4,"A":51.6,"lo":63.8,"hi":75},
{"t":876,"z":66.4,"c":64.9,"a":52.3,"pz":74,"pc":72,"pa":55,"Z":66.2,"C":64.8,"A":51.9,"lo":64.2,"hi":78},
{"t":881,"z":64.6,"c":63.2,"a":50.8,"pz":70,"pc":69,"pa":56,"Z":64.8,"C":63.4,"A":51.0,"lo":62.8,"hi":72},
{"t":886,"z":65.5,"c":64.1,"a":50.5,"pz":73,"pc":71,"pa":54,"Z":65.2,"C":63.8,"A":50.3,"lo":63.2,"hi":76},
{"t":891,"z":66.1,"c":64.7,"a":51.2,"pz":72,"pc":70,"pa":57,"Z":66.0,"C":64.6,"A":50.8,"lo":64.0,"hi":74},
{"t":896,"z":68.4,"c":66.6,"a":51.8,"pz":76,"pc":74,"pa":58,"Z":66.9,"C":65.5,"A":51.5,"lo":64.9,"hi":79},
{"t":901,"z":65.3,"c":63.9,"a":52.3,"pz":71,"pc":70,"pa":57,"Z":65.6,"C":64.2,"A":51.9,"lo":63.6,"hi":74},
{"t":906,"z":64.8,"c":63.4,"a":51.8,"pz":69,"pc":68,"pa":56,"Z":65.0,"C":63.6,"A":52.1,"lo":63.0,"hi":71},
{"t":911,"z":65.9,"c":64.5,"a":52.1,"pz":72,"pc":70,"pa":58,"Z":65.5,"C":64.1,"A":52.0,"lo":63.5,"hi":75},
{"t":916,"z":67.1,"c":65.6,"a":51.5,"pz":75,"pc":73,"pa":55,"Z":66.4,"C":65.0,"A":51.8,"lo":64.4,"hi":77},
{"t":921,"z":65.5,"c":64.1,"a":52.0,"pz":70,"pc":69,"pa":57,"Z":65.8,"C":64.4,"A":51.6,"lo":63.8,"hi":73},
{"t":926,"z":64.9,"c":63.5,"a":51.3,"pz":68,"pc":67,"pa":56,"Z":65.0,"C":63.6,"A":51.5,"lo":63.0,"hi":70},
{"t":931,"z":65.4,"c":64.0,"a":51.6,"pz":73,"pc":71,"pa":54,"Z":65.1,"C":63.7,"A":51.4,"lo":63.1,"hi":74},
{"t":936,"z":65.0,"c":63.6,"a":51.0,"pz":71,"pc":69,"pa":57,"Z":65.2,"C":63.8,"A":51.2,"lo":63.2,"hi":72},
{"t":941,"z":65.7,"c":64.3,"a":51.3,"pz":69,"pc":68,"pa":55,"Z":65.3,"C":63.9,"A":51.0,"lo":63.3,"hi":71},
{"t":946,"z":65.2,"c":63.8,"a":50.7,"pz":72,"pc":70,"pa":56,"Z":65.3,"C":63.9,"A":50.9,"lo":63.3,"hi":75},
{"t":951,"z":65.6,"c":64.2,"a":51.1,"pz":70,"pc":69,"pa":54,"Z":65.4,"C":64.0,"A":50.8,"lo":63.4,"hi":72},
{"t":956,"z":65.3,"c":63.9,"a":51.4,"pz":74,"pc":72,"pa":57,"Z":65.5,"C":64.1,"A":51.2,"lo":63.5,"hi":74},
{"t":961,"z":65.0,"c":63.6,"a":51.2,"pz":70,"pc":69,"pa":55,"Z":65.3,"C":63.9,"A":51.6,"lo":63.3,"hi":72},
{"t":966,"z":65.8,"c":64.4,"a":53.4,"pz":72,"pc":70,"pa":57,"Z":65.6,"C":64.2,"A":52.7,"lo":63.6,"hi":74},
{"t":971,"z":66.3,"c":64.8,"a":51.0,"pz":74,"pc":72,"pa":54,"Z":66.1,"C":64.7,"A":51.2,"lo":64.1,"hi":73},
{"t":976,"z":65.2,"c":63.8,"a":50.1,"pz":69,"pc":68,"pa":56,"Z":65.4,"C":64.0,"A":50.3,"lo":63.4,"hi":70},
{"t":981,"z":65.5,"c":64.1,"a":50.8,"pz":71,"pc":69,"pa":55,"Z":65.3,"C":63.9,"A":50.4,"lo":63.3,"hi":72},
{"t":986,"z":65.1,"c":63.7,"a":50.3,"pz":68,"pc":67,"pa":53,"Z":65.3,"C":63.9,"A":50.5,"lo":63.3,"hi":69},
{"t":991,"z":65.6,"c":64.2,"a":51.0,"pz":70,"pc":69,"pa":56,"Z":65.4,"C":64.0,"A":50.6,"lo":63.4,"hi":71},
{"t":996,"z":65.4,"c":64.0,"a":50.6,"pz":72,"pc":70,"pa":54,"Z":65.6,"C":64.2,"A":50.8,"lo":63.6,"hi":73},
{"t":1001,"z":66.0,"c":64.6,"a":51.2,"pz":69,"pc":68,"pa":57,"Z":65.8,"C":64.4,"A":50.9,"lo":63.8,"hi":70},
{"t":1006,"z":66.4,"c":64.9,"a":51.4,"pz":73,"pc":71,"pa":55,"Z":66.2,"C":64.8,"A":51.1,"lo":64.2,"hi":74},
{"t":1011,"z":65.7,"c":64.3,"a":50.1,"pz":71,"pc":69,"pa":53,"Z":65.9,"C":64.5,"A":50.4,"lo":63.9,"hi":72},
{"t":1016,"z":65.9,"c":64.5,"a":49.7,"pz":70,"pc":69,"pa":56,"Z":65.7,"C":64.3,"A":49.9,"lo":63.7,"hi":71},
{"t":1021,"z":66.2,"c":64.8,"a":53.0,"pz":71,"pc":70,"pa":56,"Z":66.4,"C":65.0,"A":52.5,"lo":64.4,"hi":73},
{"t":1026,"z":66.8,"c":65.3,"a":59.0,"pz":73,"pc":71,"pa":61,"Z":66.1,"C":64.7,"A":53.3,"lo":64.1,"hi":75},
{"t":1031,"z":65.6,"c":64.2,"a":50.0,"pz":69,"pc":68,"pa":54,"Z":65.9,"C":64.5,"A":50.2,"lo":63.9,"hi":71},
{"t":1036,"z":65.9,"c":64.5,"a":49.6,"pz":70,"pc":68,"pa":53,"Z":65.8,"C":64.4,"A":49.9,"lo":63.8,"hi":70},
{"t":1041,"z":66.1,"c":64.6,"a":50.3,"pz":72,"pc":70,"pa":55,"Z":66.0,"C":64.6,"A":49.9,"lo":64.0,"hi":72},
{"t":1046,"z":65.8,"c":64.4,"a":51.2,"pz":71,"pc":69,"pa":56,"Z":66.2,"C":64.8,"A":50.8,"lo":64.2,"hi":74},
{"t":1051,"z":66.5,"c":65.1,"a":55.9,"pz":74,"pc":72,"pa":58,"Z":66.4,"C":65.0,"A":52.7,"lo":64.4,"hi":76},
{"t":1056,"z":66.0,"c":64.6,"a":50.6,"pz":70,"pc":69,"pa":54,"Z":66.1,"C":64.7,"A":51.0,"lo":64.1,"hi":71},
{"t":1061,"z":65.5,"c":64.1,"a":49.4,"pz":68,"pc":67,"pa":52,"Z":65.8,"C":64.4,"A":49.7,"lo":63.8,"hi":70},
{"t":1066,"z":65.8,"c":64.4,"a":50.2,"pz":71,"pc":69,"pa":55,"Z":65.6,"C":64.2,"A":49.8,"lo":63.6,"hi":72},
{"t":1071,"z":65.4,"c":64.0,"a":49.6,"pz":69,"pc":68,"pa":53,"Z":65.6,"C":64.2,"A":49.9,"lo":63.6,"hi":69},
{"t":1076,"z":65.9,"c":64.5,"a":50.3,"pz":70,"pc":69,"pa":54,"Z":65.7,"C":64.3,"A":50.0,"lo":63.7,"hi":71},
{"t":1081,"z":65.4,"c":64.0,"a":49.8,"pz":70,"pc":69,"pa":54,"Z":65.7,"C":64.2,"A":50.0,"lo":63.6,"hi":72},
{"t":1086,"z":66.0,"c":64.5,"a":49.0,"pz":72,"pc":70,"pa":56,"Z":65.5,"C":64.0,"A":49.4,"lo":63.4,"hi":71},
{"t":1091,"z":65.1,"c":63.7,"a":48.7,"pz":69,"pc":68,"pa":53,"Z":65.3,"C":63.8,"A":48.9,"lo":63.2,"hi":73},
{"t":1096,"z":65.6,"c":64.2,"a":49.4,"pz":71,"pc":69,"pa":55,"Z":65.4,"C":63.9,"A":49.1,"lo":63.3,"hi":70},
{"t":1101,"z":72.3,"c":69.8,"a":49.8,"pz":80,"pc":78,"pa":57,"Z":66.9,"C":65.3,"A":49.3,"lo":64.6,"hi":78},
{"t":1106,"z":65.3,"c":63.9,"a":49.2,"pz":73,"pc":71,"pa":54,"Z":65.5,"C":64.0,"A":49.4,"lo":63.4,"hi":74},
{"t":1111,"z":65.0,"c":63.6,"a":48.9,"pz":70,"pc":69,"pa":53,"Z":65.3,"C":63.8,"A":49.2,"lo":63.2,"hi":71},
{"t":1116,"z":67.5,"c":65.8,"a":49.6,"pz":75,"pc":73,"pa":56,"Z":66.4,"C":64.8,"A":49.0,"lo":64.1,"hi":76},
{"t":1121,"z":65.2,"c":63.8,"a":48.6,"pz":71,"pc":69,"pa":55,"Z":65.4,"C":63.9,"A":48.9,"lo":63.3,"hi":72},
{"t":1126,"z":65.9,"c":64.4,"a":49.9,"pz":74,"pc":72,"pa":54,"Z":65.7,"C":64.2,"A":49.4,"lo":63.6,"hi":75},
{"t":1131,"z":65.0,"c":63.6,"a":50.2,"pz":72,"pc":70,"pa":57,"Z":65.4,"C":63.9,"A":49.9,"lo":63.3,"hi":73},
{"t":1136,"z":65.4,"c":64.0,"a":49.1,"pz":70,"pc":69,"pa":53,"Z":65.3,"C":63.8,"A":49.5,"lo":63.2,"hi":71},
{"t":1141,"z":73.8,"c":71.0,"a":49.0,"pz":82,"pc":80,"pa":57,"Z":67.2,"C":65.5,"A":49.3,"lo":64.8,"hi":80},
{"t":1146,"z":65.2,"c":63.7,"a":48.7,"pz":74,"pc":72,"pa":54,"Z":65.4,"C":63.9,"A":49.2,"lo":63.3,"hi":74},
{"t":1151,"z":65.5,"c":64.0,"a":49.3,"pz":72,"pc":70,"pa":55,"Z":65.3,"C":63.8,"A":49.0,"lo":63.2,"hi":72},
{"t":1156,"z":65.0,"c":63.5,"a":48.6,"pz":76,"pc":74,"pa":53,"Z":65.3,"C":63.8,"A":48.9,"lo":63.2,"hi":78},
{"t":1161,"z":78.3,"c":76.1,"a":51.8,"pz":87,"pc":85,"pa":60,"Z":71.4,"C":68.6,"A":50.2,"lo":67.0,"hi":87},
{"t":1166,"z":72.1,"c":69.5,"a":53.7,"pz":84,"pc":82,"pa":58,"Z":70.2,"C":67.6,"A":51.4,"lo":66.2,"hi":85},
{"t":1171,"z":67.2,"c":65.0,"a":49.7,"pz":80,"pc":78,"pa":56,"Z":68.0,"C":65.9,"A":50.1,"lo":64.6,"hi":82},
{"t":1176,"z":75.4,"c":72.9,"a":48.4,"pz":86,"pc":84,"pa":61,"Z":68.9,"C":66.6,"A":48.9,"lo":65.3,"hi":86},
{"t":1181,"z":66.5,"c":64.5,"a":51.5,"pz":78,"pc":76,"pa":55,"Z":66.9,"C":65.0,"A":50.1,"lo":63.8,"hi":79},
{"t":1186,"z":65.8,"c":63.9,"a":49.0,"pz":81,"pc":79,"pa":57,"Z":66.1,"C":64.2,"A":49.3,"lo":63.1,"hi":83},
{"t":1191,"z":69.2,"c":66.8,"a":48.3,"pz":77,"pc":75,"pa":54,"Z":67.2,"C":65.2,"A":48.6,"lo":63.8,"hi":77},
{"t":1196,"z":76.8,"c":74.3,"a":52.2,"pz":85,"pc":83,"pa":59,"Z":70.6,"C":68.0,"A":50.6,"lo":66.6,"hi":88},
{"t":1201,"z":71.3,"c":68.7,"a":50.8,"pz":84,"pc":82,"pa":58,"Z":69.5,"C":67.0,"A":50.2,"lo":65.9,"hi":86},
{"t":1206,"z":65.6,"c":63.6,"a":48.5,"pz":77,"pc":75,"pa":55,"Z":66.7,"C":64.6,"A":48.9,"lo":63.6,"hi":78},
{"t":1211,"z":68.2,"c":65.9,"a":49.5,"pz":82,"pc":80,"pa":57,"Z":67.3,"C":65.1,"A":49.1,"lo":64.2,"hi":84},
{"t":1216,"z":73.1,"c":70.5,"a":50.3,"pz":86,"pc":84,"pa":60,"Z":67.8,"C":65.6,"A":49.3,"lo":64.7,"hi":80},
{"t":1221,"z":70.4,"c":68.0,"a":49.9,"pz":80,"pc":78,"pa":56,"Z":68.6,"C":66.2,"A":49.4,"lo":65.4,"hi":87},
{"t":1226,"z":65.2,"c":63.3,"a":48.8,"pz":75,"pc":73,"pa":54,"Z":66.4,"C":64.3,"A":49.6,"lo":63.5,"hi":76},
{"t":1231,"z":69.5,"c":67.1,"a":51.6,"pz":83,"pc":81,"pa":59,"Z":67.6,"C":65.4,"A":50.4,"lo":64.6,"hi":83},
{"t":1236,"z":66.8,"c":64.8,"a":49.0,"pz":79,"pc":77,"pa":55,"Z":67.8,"C":65.6,"A":49.3,"lo":64.8,"hi":85},
{"t":1241,"z":71.7,"c":69.2,"a":49.3,"pz":85,"pc":83,"pa":57,"Z":68.5,"C":66.1,"A":48.9,"lo":65.2,"hi":81},
{"t":1246,"z":76.0,"c":73.3,"a":50.6,"pz":87,"pc":85,"pa":58,"Z":70.0,"C":67.3,"A":49.1,"lo":66.4,"hi":88},
{"t":1251,"z":65.4,"c":63.5,"a":48.7,"pz":76,"pc":74,"pa":54,"Z":66.4,"C":64.3,"A":49.3,"lo":63.5,"hi":79},
{"t":1256,"z":74.1,"c":71.5,"a":50.0,"pz":84,"pc":82,"pa":56,"Z":68.9,"C":66.4,"A":48.6,"lo":65.6,"hi":86},
{"t":1261,"z":65.1,"c":63.3,"a":48.0,"pz":76,"pc":74,"pa":53,"Z":65.6,"C":63.8,"A":48.3,"lo":63.0,"hi":78},
{"t":1266,"z":72.5,"c":70.0,"a":50.9,"pz":83,"pc":81,"pa":57,"Z":69.2,"C":66.6,"A":50.0,"lo":65.8,"hi":85},
{"t":1271,"z":77.2,"c":74.8,"a":51.2,"pz":87,"pc":85,"pa":59,"Z":71.1,"C":68.2,"A":49.8,"lo":67.2,"hi":88},
{"t":1276,"z":70.3,"c":67.8,"a":54.0,"pz":81,"pc":79,"pa":60,"Z":69.7,"C":67.0,"A":49.6,"lo":66.2,"hi":86},
{"t":1281,"z":68.6,"c":66.3,"a":50.5,"pz":79,"pc":77,"pa":56,"Z":67.8,"C":65.6,"A":50.0,"lo":64.8,"hi":82},
{"t":1286,"z":65.0,"c":63.2,"a":49.3,"pz":75,"pc":73,"pa":54,"Z":66.1,"C":64.1,"A":49.9,"lo":63.3,"hi":77},
{"t":1291,"z":66.9,"c":64.8,"a":50.4,"pz":78,"pc":76,"pa":57,"Z":66.8,"C":64.7,"A":50.1,"lo":63.9,"hi":80},
{"t":1296,"z":70.8,"c":68.4,"a":49.0,"pz":82,"pc":80,"pa":55,"Z":67.8,"C":65.6,"A":49.4,"lo":64.8,"hi":84},
{"t":1301,"z":73.9,"c":71.2,"a":48.4,"pz":86,"pc":84,"pa":53,"Z":68.9,"C":66.4,"A":48.6,"lo":65.6,"hi":87},
{"t":1306,"z":67.0,"c":64.9,"a":49.6,"pz":80,"pc":78,"pa":56,"Z":67.5,"C":65.3,"A":49.2,"lo":64.5,"hi":81},
{"t":1311,"z":66.2,"c":64.2,"a":50.3,"pz":77,"pc":75,"pa":58,"Z":66.9,"C":64.8,"A":49.7,"lo":64.0,"hi":79},
{"t":1316,"z":72.4,"c":69.9,"a":48.7,"pz":84,"pc":82,"pa":54,"Z":68.6,"C":66.2,"A":49.0,"lo":65.4,"hi":85},
{"t":1321,"z":65.5,"c":63.5,"a":47.9,"pz":77,"pc":75,"pa":54,"Z":66.1,"C":64.1,"A":48.1,"lo":63.3,"hi":79},
{"t":1326,"z":70.2,"c":67.8,"a":50.6,"pz":84,"pc":82,"pa":57,"Z":67.9,"C":65.7,"A":49.6,"lo":64.9,"hi":84},
{"t":1331,"z":66.0,"c":64.0,"a":47.9,"pz":79,"pc":77,"pa":53,"Z":66.6,"C":64.6,"A":48.2,"lo":63.8,"hi":80},
{"t":1336,"z":65.3,"c":63.3,"a":48.2,"pz":76,"pc":74,"pa":55,"Z":66.1,"C":64.1,"A":48.5,"lo":63.3,"hi":77},
{"t":1341,"z":71.6,"c":69.0,"a":49.5,"pz":85,"pc":83,"pa":58,"Z":68.5,"C":66.1,"A":49.0,"lo":65.3,"hi":86},
{"t":1346,"z":78.0,"c":75.4,"a":50.3,"pz":88,"pc":86,"pa":56,"Z":71.4,"C":68.4,"A":49.4,"lo":67.6,"hi":89},
{"t":1351,"z":69.1,"c":66.7,"a":48.0,"pz":82,"pc":80,"pa":54,"Z":68.3,"C":65.9,"A":48.3,"lo":65.1,"hi":83},
{"t":1356,"z":66.2,"c":64.1,"a":49.2,"pz":78,"pc":76,"pa":57,"Z":66.9,"C":64.8,"A":48.9,"lo":64.0,"hi":79},
{"t":1361,"z":70.5,"c":67.9,"a":50.4,"pz":84,"pc":82,"pa":59,"Z":68.2,"C":65.9,"A":49.7,"lo":65.1,"hi":85},
{"t":1366,"z":73.2,"c":70.6,"a":48.5,"pz":86,"pc":84,"pa":55,"Z":69.4,"C":66.9,"A":48.7,"lo":66.1,"hi":87},
{"t":1371,"z":64.8,"c":63.0,"a":47.7,"pz":75,"pc":73,"pa":53,"Z":65.3,"C":63.5,"A":47.8,"lo":62.7,"hi":76},
{"t":1376,"z":64.2,"c":62.7,"a":47.6,"pz":73,"pc":71,"pa":52,"Z":64.4,"C":62.9,"A":47.9,"lo":62.2,"hi":74},
{"t":1381,"z":65.0,"c":63.2,"a":47.8,"pz":76,"pc":74,"pa":54,"Z":65.5,"C":63.6,"A":48.0,"lo":62.8,"hi":78},
{"t":1386,"z":68.9,"c":66.6,"a":48.6,"pz":82,"pc":80,"pa":56,"Z":67.5,"C":65.2,"A":48.1,"lo":64.4,"hi":83},
{"t":1391,"z":71.2,"c":68.8,"a":49.4,"pz":85,"pc":83,"pa":58,"Z":68.4,"C":66.1,"A":48.7,"lo":65.3,"hi":86},
{"t":1396,"z":74.5,"c":71.9,"a":52.8,"pz":88,"pc":86,"pa":60,"Z":69.9,"C":67.3,"A":49.7,"lo":66.5,"hi":88},
{"t":1401,"z":67.3,"c":65.0,"a":48.7,"pz":80,"pc":78,"pa":55,"Z":67.6,"C":65.3,"A":48.9,"lo":64.5,"hi":82},
{"t":1406,"z":65.4,"c":63.5,"a":48.0,"pz":75,"pc":73,"pa":53,"Z":66.1,"C":64.1,"A":48.3,"lo":63.3,"hi":77},
{"t":1411,"z":68.0,"c":65.8,"a":48.9,"pz":81,"pc":79,"pa":56,"Z":67.3,"C":65.0,"A":48.3,"lo":64.2,"hi":84},
{"t":1416,"z":73.0,"c":70.4,"a":50.6,"pz":86,"pc":84,"pa":57,"Z":68.9,"C":66.4,"A":48.3,"lo":65.6,"hi":87},
{"t":1421,"z":70.6,"c":68.2,"a":48.8,"pz":83,"pc":81,"pa":55,"Z":68.2,"C":65.9,"A":48.5,"lo":65.1,"hi":85},
{"t":1426,"z":66.4,"c":64.3,"a":49.9,"pz":78,"pc":76,"pa":58,"Z":67.0,"C":64.9,"A":49.6,"lo":64.1,"hi":80},
{"t":1431,"z":65.9,"c":64.0,"a":47.9,"pz":77,"pc":75,"pa":54,"Z":66.8,"C":64.6,"A":48.1,"lo":63.8,"hi":79},
{"t":1436,"z":69.8,"c":67.3,"a":48.3,"pz":82,"pc":80,"pa":56,"Z":68.0,"C":65.7,"A":48.0,"lo":64.9,"hi":84}
]},
"data": {"name": "d"},
"spacing": 3,
"resolve": {"scale": {"color": "independent", "shape": "independent", "size": "independent"}, "legend": {"color": "independent", "shape": "independent", "size": "independent"}},
"vconcat": [
{
  "width": 2284, "height": 504,
  "title": {"text": "average and peak noise level (1 min sampling)", "anchor": "start", "frame": "group", "fontSize": 12, "fontWeight": "bold", "offset": 2, "color": "black"},
  "layer": [
    {
      "transform": [{"fold": ["pz", "pc", "pa"], "as": ["key", "value"]}],
      "mark": {"type": "point", "filled": true, "opacity": 1, "clip": true},
      "encoding": {
        "x": {"field": "t", "type": "quantitative", "scale": {"domain": [0, 1439], "nice": false, "zero": false},
          "axis": {"values": [0,30,60,90,120,150,180,210,240,270,300,330,360,390,420,450,480,510,540,570,600,630,660,690,720,750,780,810,840,870,900,930,960,990,1020,1050,1080,1110,1140,1170,1200,1230,1260,1290,1320,1350,1380,1410],
            "title": "time", "titlePadding": 9,
            "labelExpr": "datum.value % 120 == 0 ? (datum.value < 600 ? '0' : '') + (datum.value / 60) + ':00' : ''",
            "grid": true,
            "gridDash": {"condition": {"test": "datum.value % 120 != 0", "value": [3, 2]}, "value": []},
            "gridColor": {"condition": {"test": "datum.value % 120 != 0", "value": "#c8c8c8"}, "value": "#a8a8a8"},
            "gridWidth": {"condition": {"test": "datum.value % 120 != 0", "value": 0.8}, "value": 1.3},
            "tickSize": {"condition": {"test": "datum.value % 120 != 0", "value": 3.5}, "value": 6}}},
        "y": {"field": "value", "type": "quantitative", "scale": {"domain": [24, 108], "nice": false, "zero": false},
          "axis": {"orient": "left", "values": [24,28,32,36,40,44,48,52,56,60,64,68,72,76,80,84,88,92,96,100,104,108],
            "title": "dB SPL", "titlePadding": 6,
            "labelExpr": "datum.value % 12 == 0 ? datum.label : ''",
            "grid": true,
            "gridDash": {"condition": {"test": "datum.value % 12 != 0", "value": [3, 2]}, "value": []},
            "gridColor": {"condition": {"test": "datum.value % 12 != 0", "value": "#c8c8c8"}, "value": "#a8a8a8"},
            "gridWidth": {"condition": {"test": "datum.value % 12 != 0", "value": 0.8}, "value": 1.3},
            "tickSize": {"condition": {"test": "datum.value % 12 != 0", "value": 3.5}, "value": 6}}},
        "color": {"field": "key", "type": "nominal",
          "scale": {"domain": ["pz", "pc", "pa", "z", "c", "a"], "range": ["#1e90ff", "#ff00ff", "#2e8b57", "#4682b4", "#da70d6", "#9acd32"]},
          "legend": {"orient": "bottom-right", "columns": 2, "title": null, "offset": 5,
            "fillColor": "#fff8dc", "strokeColor": "#dcc49a", "padding": 5, "cornerRadius": 3,
            "labelFontSize": 9.5, "labelColor": "black", "symbolStrokeWidth": 3, "columnPadding": 16, "rowPadding": 0,
            "labelExpr": "datum.label == 'pz' ? 'peak dB(Z)' : datum.label == 'pc' ? 'peak dB(C)' : datum.label == 'pa' ? 'peak dB(A)' : datum.label == 'z' ? 'avg dB(Z)' : datum.label == 'c' ? 'avg dB(C)' : 'avg dB(A)'"}},
        "shape": {"field": "key", "type": "nominal",
          "scale": {"domain": ["pz", "pc", "pa", "z", "c", "a"], "range": ["circle", "circle", "circle", "stroke", "stroke", "stroke"]},
          "legend": {"orient": "bottom-right", "columns": 2, "title": null, "offset": 5,
            "fillColor": "#fff8dc", "strokeColor": "#dcc49a", "padding": 5, "cornerRadius": 3,
            "labelFontSize": 9.5, "labelColor": "black", "symbolStrokeWidth": 3, "columnPadding": 16, "rowPadding": 0,
            "labelExpr": "datum.label == 'pz' ? 'peak dB(Z)' : datum.label == 'pc' ? 'peak dB(C)' : datum.label == 'pa' ? 'peak dB(A)' : datum.label == 'z' ? 'avg dB(Z)' : datum.label == 'c' ? 'avg dB(C)' : 'avg dB(A)'"}},
        "size": {"field": "key", "type": "nominal",
          "scale": {"type": "ordinal", "domain": ["pz", "pc", "pa", "z", "c", "a"], "range": [10, 10, 10, 300, 300, 300]},
          "legend": {"orient": "bottom-right", "columns": 2, "title": null, "offset": 5,
            "fillColor": "#fff8dc", "strokeColor": "#dcc49a", "padding": 5, "cornerRadius": 3,
            "labelFontSize": 9.5, "labelColor": "black", "symbolStrokeWidth": 3, "columnPadding": 16, "rowPadding": 0,
            "labelExpr": "datum.label == 'pz' ? 'peak dB(Z)' : datum.label == 'pc' ? 'peak dB(C)' : datum.label == 'pa' ? 'peak dB(A)' : datum.label == 'z' ? 'avg dB(Z)' : datum.label == 'c' ? 'avg dB(C)' : 'avg dB(A)'"}}
      }
    },
    {
      "transform": [{"fold": ["z", "c", "a"], "as": ["key", "value"]}],
      "mark": {"type": "line", "strokeWidth": 1.2, "clip": true},
      "encoding": {
        "x": {"field": "t", "type": "quantitative"},
        "y": {"field": "value", "type": "quantitative",
          "axis": {"orient": "right", "values": [24,28,32,36,40,44,48,52,56,60,64,68,72,76,80,84,88,92,96,100,104,108],
            "title": "dB SPL", "titleAngle": 270, "titlePadding": 6,
            "labelExpr": "datum.value % 12 == 0 ? datum.label : ''",
            "grid": false,
            "tickSize": {"condition": {"test": "datum.value % 12 != 0", "value": 3.5}, "value": 6}}},
        "color": {"field": "key", "type": "nominal"}
      }
    }
  ],
  "resolve": {"axis": {"y": "independent"}}
},
{
  "width": 2284, "height": 504,
  "title": {"text": "average noise level (5 min with 15s min/max dB envelope)", "anchor": "start", "frame": "group", "fontSize": 12, "fontWeight": "bold", "offset": 2, "color": "black"},
  "layer": [
    {
      "mark": {"type": "area", "color": "#e0707f", "opacity": 0.22, "clip": true},
      "encoding": {
        "x": {"field": "t", "type": "quantitative", "scale": {"domain": [0, 1439], "nice": false, "zero": false},
          "axis": {"values": [0,30,60,90,120,150,180,210,240,270,300,330,360,390,420,450,480,510,540,570,600,630,660,690,720,750,780,810,840,870,900,930,960,990,1020,1050,1080,1110,1140,1170,1200,1230,1260,1290,1320,1350,1380,1410],
            "title": "time", "titlePadding": 9,
            "labelExpr": "datum.value % 120 == 0 ? (datum.value < 600 ? '0' : '') + (datum.value / 60) + ':00:00' : ''",
            "grid": true,
            "gridDash": {"condition": {"test": "datum.value % 120 != 0", "value": [3, 2]}, "value": []},
            "gridColor": {"condition": {"test": "datum.value % 120 != 0", "value": "#c8c8c8"}, "value": "#a8a8a8"},
            "gridWidth": {"condition": {"test": "datum.value % 120 != 0", "value": 0.8}, "value": 1.3},
            "tickSize": {"condition": {"test": "datum.value % 120 != 0", "value": 3.5}, "value": 6}}},
        "y": {"field": "lo", "type": "quantitative", "scale": {"domain": [24, 108], "nice": false, "zero": false},
          "axis": {"orient": "left", "values": [24,28,32,36,40,44,48,52,56,60,64,68,72,76,80,84,88,92,96,100,104,108],
            "title": "dB SPL", "titlePadding": 6,
            "labelExpr": "datum.value % 12 == 0 ? datum.label : ''",
            "grid": true,
            "gridDash": {"condition": {"test": "datum.value % 12 != 0", "value": [3, 2]}, "value": []},
            "gridColor": {"condition": {"test": "datum.value % 12 != 0", "value": "#c8c8c8"}, "value": "#a8a8a8"},
            "gridWidth": {"condition": {"test": "datum.value % 12 != 0", "value": 0.8}, "value": 1.3},
            "tickSize": {"condition": {"test": "datum.value % 12 != 0", "value": 3.5}, "value": 6}}},
        "y2": {"field": "hi"}
      }
    },
    {
      "transform": [{"fold": ["Z", "C", "A"], "as": ["key", "value"]}],
      "mark": {"type": "line", "strokeWidth": 1.6, "clip": true},
      "encoding": {
        "x": {"field": "t", "type": "quantitative"},
        "y": {"field": "value", "type": "quantitative",
          "axis": {"orient": "right", "values": [24,28,32,36,40,44,48,52,56,60,64,68,72,76,80,84,88,92,96,100,104,108],
            "title": "dB SPL", "titleAngle": 270, "titlePadding": 6,
            "labelExpr": "datum.value % 12 == 0 ? datum.label : ''",
            "grid": false,
            "tickSize": {"condition": {"test": "datum.value % 12 != 0", "value": 3.5}, "value": 6}}},
        "color": {"field": "key", "type": "nominal",
          "scale": {"domain": ["Z", "C", "A"], "range": ["#dc143c", "#ff8c00", "#ffd700"]},
          "legend": {"orient": "bottom-right", "title": null, "offset": 5,
            "fillColor": "#fff8dc", "strokeColor": "#dcc49a", "padding": 5, "cornerRadius": 3,
            "labelFontSize": 9.5, "labelColor": "black", "symbolType": "stroke", "symbolSize": 300, "symbolStrokeWidth": 3.5, "rowPadding": 0,
            "labelExpr": "'dB(' + datum.label + ')'"}}
      }
    }
  ],
  "resolve": {"axis": {"y": "independent"}}
}
],
"config": {
  "font": "DejaVu Sans",
  "view": {"fill": "#fff8dc", "stroke": "black", "strokeWidth": 1.2},
  "axis": {"labelFont": "DejaVu Sans", "labelFontSize": 8, "labelColor": "#222222", "titleFont": "DejaVu Sans", "titleFontSize": 10.5, "titleFontWeight": "normal", "titleColor": "black", "tickColor": "black", "domain": false, "labelOverlap": false, "labelFlush": false, "labelBound": false, "labelPadding": 3},
  "legend": {"labelFont": "DejaVu Sans"},
  "title": {"font": "DejaVu Sans", "color": "black"}
}
}
